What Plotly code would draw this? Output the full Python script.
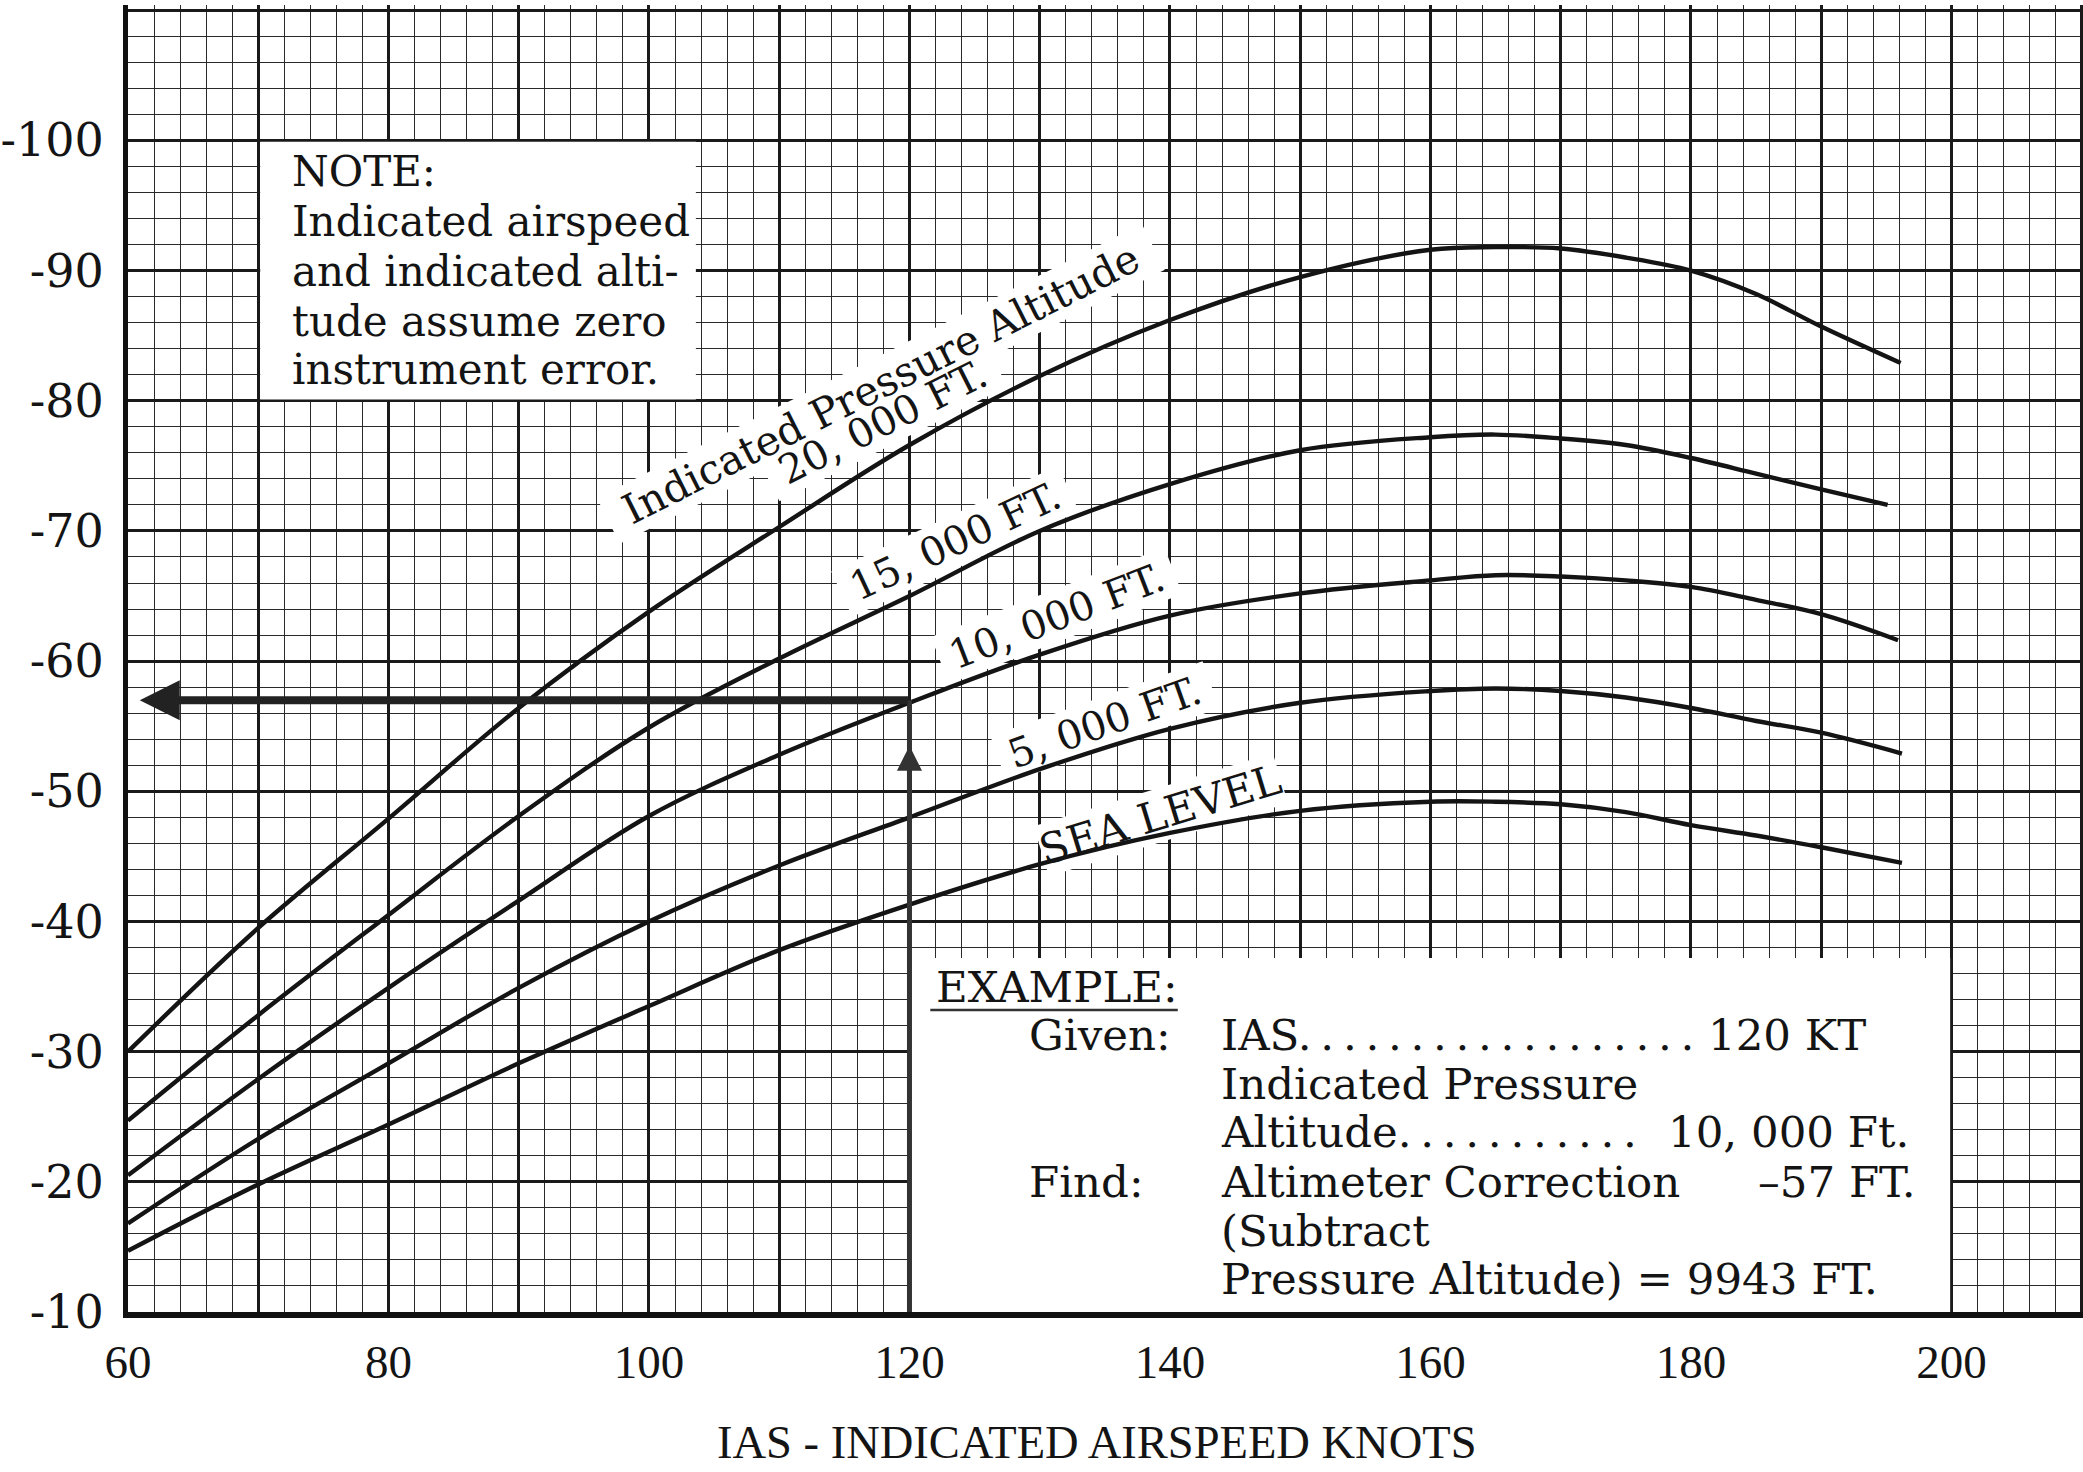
import math
import plotly.graph_objects as go

# ---------------- data ----------------
ias = [60, 70, 80, 90, 100, 110, 120, 130, 140, 150, 160, 165, 170, 175, 180, 185, 190]

corr_20000 = [-30.0, -39.5, -47.9, -56.4, -63.8, -70.3, -76.6, -81.9, -86.2, -89.5, -91.6, -91.8, -91.7, -91.0, -90.0, -88.2, -85.7]
corr_15000 = [-24.7, -32.8, -40.5, -48.1, -54.9, -60.2, -65.0, -70.0, -73.6, -76.2, -77.2, -77.4, -77.1, -76.6, -75.6, -74.4, -73.2]
corr_10000 = [-20.5, -27.9, -34.9, -41.6, -48.1, -52.8, -56.8, -60.5, -63.5, -65.2, -66.2, -66.6, -66.5, -66.2, -65.7, -64.7, -63.6]
corr_5000 = [-16.8, -23.3, -29.1, -34.9, -40.0, -44.3, -48.0, -51.7, -54.8, -56.8, -57.7, -57.9, -57.7, -57.2, -56.4, -55.4, -54.5]
corr_sea = [-14.7, -19.8, -24.4, -29.1, -33.5, -37.8, -41.3, -44.4, -46.8, -48.5, -49.2, -49.2, -49.0, -48.4, -47.4, -46.6, -45.7]

# last drawn point of each curve (IAS, correction)
end_ias = [196.1, 195.1, 195.9, 196.2, 196.2]
end_corr = [-82.9, -72.0, -61.6, -52.9, -44.5]

x_tick_vals = [60, 70, 80, 90, 100, 110, 120, 130, 140, 150, 160, 170, 180, 190, 200, 210]
x_tick_text = ["60", "", "80", "", "100", "", "120", "", "140", "", "160", "", "180", "", "200", ""]
y_tick_vals = [-110, -100, -90, -80, -70, -60, -50, -40, -30, -20, -10]
y_tick_text = ["", "-100", "-90", "-80", "-70", "-60", "-50", "-40", "-30", "-20", "-10"]

# worked example
example_ias = 120
example_corr = -57

curve_labels = ["Indicated Pressure Altitude", "20, 000 FT.", "15, 000 FT.", "10, 000 FT.", "5, 000 FT.", "SEA LEVEL"]
label_x = [117.8, 117.9, 123.5, 131.3, 135.0, 139.3]
label_y = [-81.3, -78.4, -69.2, -63.5, -55.3, -48.2]
label_angle = [-26.7, -26.7, -25, -21, -19.5, -17]
label_size = [41, 40, 40, 40, 40, 42]
patch_w = [610, 255, 250, 250, 225, 250]

note_lines = ["NOTE:", "Indicated airspeed", "and indicated alti-", "tude assume zero", "instrument error."]
note_y = [-97.6, -93.8, -89.9, -86.1, -82.4]

INK = "#141414"
SERIF = "DejaVu Serif"
SERIF2 = "Liberation Serif"

W, H = 2083, 1472
ML, MR, MT, MB = 128, 0, 5, 160
X_RANGE = [60, 210.1]
Y_RANGE = [-10, -110.4]
PX_X = (W - ML - MR) / (X_RANGE[1] - X_RANGE[0])
PX_Y = (H - MT - MB) / (Y_RANGE[0] - Y_RANGE[1])


def rot_patch(xc, yc, ang_deg, w_px, h_px):
    """White rotated patch (erased grid) behind a rotated label."""
    a = math.radians(-ang_deg)
    ux, uy = math.cos(a), -math.sin(a)
    vx, vy = math.sin(a), math.cos(a)
    pts = []
    for su, sv in [(-1, -1), (1, -1), (1, 1), (-1, 1)]:
        sx = su * w_px / 2 * ux + sv * h_px / 2 * vx
        sy = su * w_px / 2 * uy + sv * h_px / 2 * vy
        pts.append((xc + sx / PX_X, yc + sy / PX_Y))
    path = "M " + " L ".join(f"{px:.4f},{py:.4f}" for px, py in pts) + " Z"
    return dict(type="path", xref="x", yref="y", path=path, fillcolor="white",
                line=dict(width=0), layer="between")


fig = go.Figure()

series = [corr_20000, corr_15000, corr_10000, corr_5000, corr_sea]
for vals, ex, ey in zip(series, end_ias, end_corr):
    fig.add_trace(go.Scatter(
        x=ias + [ex], y=vals + [ey], mode="lines",
        line=dict(color=INK, width=4.4, shape="spline", smoothing=1.0),
        hoverinfo="skip", showlegend=False))

# vertical example line at 120 kt up to the 10,000 ft curve
fig.add_trace(go.Scatter(
    x=[example_ias, example_ias], y=[-10, example_corr], mode="lines",
    line=dict(color="#333333", width=5), hoverinfo="skip", showlegend=False))

shapes = [
    # white patch behind the NOTE
    dict(type="rect", xref="x", yref="y", x0=70.15, x1=103.6, y0=-99.9, y1=-80.1,
         fillcolor="white", line=dict(width=0), layer="between"),
    # white patch behind the EXAMPLE
    dict(type="rect", xref="x", yref="y", x0=120.1, x1=199.9, y0=-10.0, y1=-37.2,
         fillcolor="white", line=dict(width=0), layer="between"),
    # underline of EXAMPLE:
    dict(type="line", xref="x", yref="y", x0=121.6, x1=140.6, y0=-33.2, y1=-33.2,
         line=dict(color="#333333", width=2.5)),
]
for lx, ly, ang, sz, pw in zip(label_x, label_y, label_angle, label_size, patch_w):
    shapes.append(rot_patch(lx, ly, ang, pw, sz * 1.25))

annotations = []
# horizontal arrow to the correction axis
annotations.append(dict(x=60.9, y=example_corr, ax=example_ias, ay=example_corr,
                        xref="x", yref="y", axref="x", ayref="y", text="",
                        showarrow=True, arrowhead=2, arrowsize=1.0, arrowwidth=8,
                        arrowcolor="#222222", standoff=0))
# small up arrow on the vertical line
annotations.append(dict(x=example_ias, y=-53.5, ax=example_ias, ay=-47.5,
                        xref="x", yref="y", axref="x", ayref="y", text="",
                        showarrow=True, arrowhead=2, arrowsize=1.0, arrowwidth=5,
                        arrowcolor="#333333", standoff=0))

for t, lx, ly, ang, sz in zip(curve_labels, label_x, label_y, label_angle, label_size):
    annotations.append(dict(x=lx, y=ly, xref="x", yref="y", text=t, showarrow=False,
                            textangle=ang, font=dict(family=SERIF, size=sz, color=INK),
                            xanchor="center", yanchor="middle"))

for t, ny in zip(note_lines, note_y):
    annotations.append(dict(x=72.4, y=ny, xref="x", yref="y", text=t, showarrow=False,
                            font=dict(family=SERIF, size=42, color=INK),
                            xanchor="left", yanchor="middle"))

ex_font = dict(family=SERIF, size=43.5, color=INK)
col1 = 129.0
col2 = 143.8
example_left = [
    (121.9, -35.0, "EXAMPLE:"),
    (col1, -31.3, "Given:"),
    (col2, -31.3, "IAS" + ".\u2009" * 18),
    (col2, -27.5, "Indicated Pressure"),
    (col2, -23.8, "Altitude" + ".\u2009" * 11),
    (col1, -20.0, "Find:"),
    (col2, -20.0, "Altimeter Correction"),
    (col2, -16.2, "(Subtract"),
    (col2, -12.5, "Pressure Altitude) = 9943 FT."),
]
example_right = [
    (193.6, -31.3, "120 KT"),
    (196.9, -23.8, "10, 000 Ft."),
    (197.4, -20.0, "\u201357 FT."),
]
for ax_, ay_, t in example_left:
    annotations.append(dict(x=ax_, y=ay_, xref="x", yref="y", text=t, showarrow=False,
                            font=ex_font, xanchor="left", yanchor="middle"))
for ax_, ay_, t in example_right:
    annotations.append(dict(x=ax_, y=ay_, xref="x", yref="y", text=t, showarrow=False,
                            font=ex_font, xanchor="right", yanchor="middle"))

# x-axis title
annotations.append(dict(x=134.4, y=-0.1, xref="x", yref="paper",
                        text="IAS - INDICATED AIRSPEED KNOTS", showarrow=False,
                        font=dict(family=SERIF2, size=46.5, color=INK),
                        xanchor="center", yanchor="middle"))

fig.update_layout(
    width=W, height=H, autosize=False,
    margin=dict(l=ML, r=MR, t=MT, b=MB, pad=0),
    paper_bgcolor="white", plot_bgcolor="white",
    showlegend=False,
    shapes=shapes, annotations=annotations,
    xaxis=dict(range=X_RANGE, tickmode="array", tickvals=x_tick_vals, ticktext=x_tick_text,
               showgrid=True, gridcolor="#1a1a1a", gridwidth=2.8, zeroline=False,
               showline=True, linecolor="#111111", linewidth=6, ticks="",
               tickfont=dict(family=SERIF2, size=47, color=INK), ticklabelstandoff=4,
               minor=dict(dtick=2, tick0=60, showgrid=True, gridcolor="#2a2a2a", gridwidth=1.3, ticks="")),
    yaxis=dict(range=Y_RANGE, tickmode="array", tickvals=y_tick_vals, ticktext=y_tick_text,
               showgrid=True, gridcolor="#1a1a1a", gridwidth=2.8, zeroline=False,
               showline=True, linecolor="#111111", linewidth=5, ticks="",
               tickfont=dict(family=SERIF, size=46, color=INK), ticklabelstandoff=10,
               minor=dict(dtick=2, tick0=-10, showgrid=True, gridcolor="#2a2a2a", gridwidth=1.3, ticks="")),
)

fig.write_html("out.html")
